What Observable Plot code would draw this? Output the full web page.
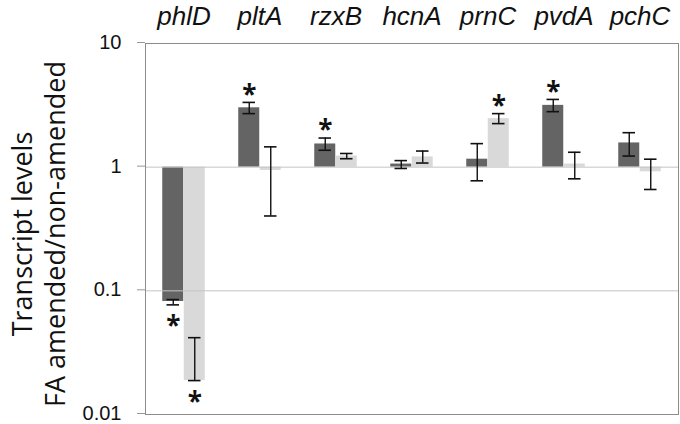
<!DOCTYPE html>
<html>
<head>
<meta charset="utf-8">
<script src="https://cdn.jsdelivr.net/npm/d3@7"></script>
<script src="https://cdn.jsdelivr.net/npm/@observablehq/plot@0.6"></script>
<style>
  body { margin: 0; background: #fff; }
  #chart svg { display: block; }
</style>
</head>
<body>
<div id="chart"></div>
<script>
// ---- data ----
const genes = ["phlD", "pltA", "rzxB", "hcnA", "prnC", "pvdA", "pchC"];
const series = ["dark", "light"];
// dark series
const darkValue = [0.082, 3.02, 1.54, 1.06, 1.16, 3.16, 1.57];
const darkLow   = [0.077, 2.71, 1.37, 0.976, 0.776, 2.81, 1.23];
const darkHigh  = [0.085, 3.34, 1.72, 1.13, 1.55, 3.53, 1.90];
const darkStar  = [true, true, true, false, false, true, false];
// light series
const lightValue = [0.0188, 0.94, 1.23, 1.21, 2.47, 1.06, 0.917];
const lightLow   = [0.0188, 0.403, 1.17, 1.08, 2.25, 0.805, 0.66];
const lightHigh  = [0.0418, 1.46, 1.29, 1.35, 2.71, 1.32, 1.16];
const lightStar  = [true, false, false, false, true, false, false];

const yTicks = [0.01, 0.1, 1, 10];
const yTickLabels = ["0.01", "0.1", "1", "10"];
const gridValues = [0.1, 1];
const yLabelLines = ["Transcript levels", "FA amended/non-amended"];

// ---- build rows ----
const rows = [];
genes.forEach((g, i) => {
  rows.push({gene: g, series: "dark", value: darkValue[i], lo: darkLow[i], hi: darkHigh[i], star: darkStar[i]});
  rows.push({gene: g, series: "light", value: lightValue[i], lo: lightLow[i], hi: lightHigh[i], star: lightStar[i]});
});
const colors = {dark: "#646464", light: "#d9d9d9"};
const half = 10.75;
const byS = s => rows.filter(r => r.series === s);
const starsUp = s => byS(s).filter(r => r.star && r.value >= 1);
const starsDown = s => byS(s).filter(r => r.star && r.value < 1);

const marks = [];
for (const s of series) {
  const off = s === "dark" ? -half : half;
  marks.push(Plot.barY(byS(s), {x: "gene", y1: 1, y2: "value", fill: colors[s], dx: off}));
}
marks.push(Plot.ruleY(gridValues, {stroke: "#c4c4c4", strokeWidth: 1}));
for (const s of series) {
  const off = s === "dark" ? -half : half;
  marks.push(Plot.ruleX(byS(s), {x: "gene", y1: "lo", y2: "hi", stroke: "#111", strokeWidth: 1.4, dx: off}));
  marks.push(Plot.tickY(byS(s), {x: "gene", y: "lo", stroke: "#111", strokeWidth: 1.6, dx: off, insetLeft: 4.25, insetRight: 4.25}));
  marks.push(Plot.tickY(byS(s), {x: "gene", y: "hi", stroke: "#111", strokeWidth: 1.6, dx: off, insetLeft: 4.25, insetRight: 4.25}));
  marks.push(Plot.text(starsUp(s), {x: "gene", y: "hi", text: () => "*", dx: off, dy: -7, fontSize: 26, fontWeight: "bold", fill: "#111", lineAnchor: "middle"}));
  marks.push(Plot.text(starsDown(s), {x: "gene", y: "lo", text: () => "*", dx: off, dy: 22, fontSize: 26, fontWeight: "bold", fill: "#111", lineAnchor: "middle"}));
}
marks.push(Plot.frame({stroke: "#8c8c8c"}));
marks.push(Plot.axisY({ticks: yTicks, tickFormat: d => yTickLabels[yTicks.indexOf(d)], tickSize: 8, tickPadding: 16, fontSize: 20, fontFamily: "'Liberation Sans', Arial, sans-serif", dy: -1, stroke: "#999", fill: "#111", label: null}));
marks.push(Plot.text(genes, {x: d => d, text: d => d, frameAnchor: "top", dy: -27, fontSize: 26, fontStyle: "italic", fontFamily: "'Liberation Sans', Arial, sans-serif", fill: "#111", lineAnchor: "middle"}));
marks.push(Plot.text([yLabelLines.join("\n")], {frameAnchor: "left", rotate: -90, dx: -108, dy: 5, fontSize: 27, lineHeight: 1.222, fill: "#111", lineAnchor: "middle", textAnchor: "middle"}));

const plot = Plot.plot({
  width: 680,
  height: 424,
  marginLeft: 145,
  marginTop: 43,
  marginBottom: 10,
  marginRight: 2,
  style: {fontFamily: "'Open Sans', sans-serif", background: "#fff", color: "#111"},
  x: {domain: genes, paddingInner: 0.7176, paddingOuter: 0.3588, axis: null},
  y: {type: "log", domain: [0.01, 10], axis: null},
  marks
});
document.getElementById("chart").appendChild(plot);
</script>
</body>
</html>
